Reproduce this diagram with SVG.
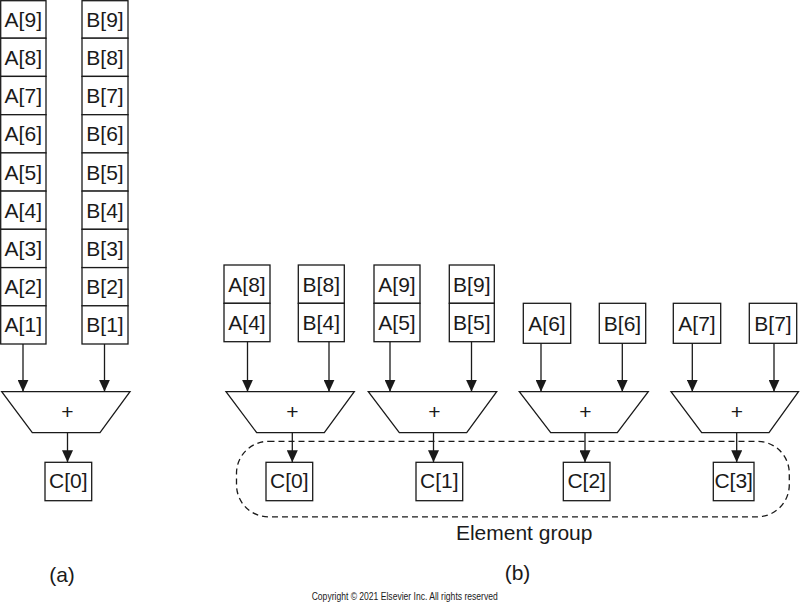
<svg xmlns="http://www.w3.org/2000/svg" width="800" height="606" viewBox="0 0 800 606">
<style>
.box{fill:#fff;stroke:#1a1a1a;stroke-width:1.3}
.t{font-family:"Liberation Sans",Arial,sans-serif;font-size:21px;fill:#1a1a1a;text-anchor:middle}
.ln{stroke:#1a1a1a;stroke-width:1.3;fill:none}
.dash{fill:none;stroke:#1a1a1a;stroke-width:1.3;stroke-dasharray:6 4}
.small{font-family:"Liberation Sans",Arial,sans-serif;font-size:10px;fill:#1a1a1a}
</style>
<defs>
<marker id="ah" viewBox="0 0 12 11" refX="12" refY="5.5" markerWidth="12" markerHeight="11" markerUnits="userSpaceOnUse" orient="auto"><path d="M0,0L12,5.5L0,11z" fill="#1a1a1a"/></marker>
</defs>
<rect width="800" height="606" fill="#fff"/>

<!-- (a) column A -->
<g id="a-A9"><rect class="box" x="0.7" y="0.7" width="45.3" height="37.5"/><text class="t" x="23.3" y="26.6">A[9]</text></g>
<g id="a-A8"><rect class="box" x="0.7" y="38.2" width="45.3" height="38.2"/><text class="t" x="23.3" y="64.8">A[8]</text></g>
<g id="a-A7"><rect class="box" x="0.7" y="76.4" width="45.3" height="38.3"/><text class="t" x="23.3" y="103">A[7]</text></g>
<g id="a-A6"><rect class="box" x="0.7" y="114.7" width="45.3" height="38.2"/><text class="t" x="23.3" y="141.3">A[6]</text></g>
<g id="a-A5"><rect class="box" x="0.7" y="152.9" width="45.3" height="38.2"/><text class="t" x="23.3" y="179.5">A[5]</text></g>
<g id="a-A4"><rect class="box" x="0.7" y="191.1" width="45.3" height="38.2"/><text class="t" x="23.3" y="217.7">A[4]</text></g>
<g id="a-A3"><rect class="box" x="0.7" y="229.3" width="45.3" height="38.3"/><text class="t" x="23.3" y="255.9">A[3]</text></g>
<g id="a-A2"><rect class="box" x="0.7" y="267.6" width="45.3" height="38.2"/><text class="t" x="23.3" y="294.2">A[2]</text></g>
<g id="a-A1"><rect class="box" x="0.7" y="305.8" width="45.3" height="38.2"/><text class="t" x="23.3" y="332.4">A[1]</text></g>

<!-- (a) column B -->
<g id="a-B9"><rect class="box" x="82" y="0.7" width="46" height="37.5"/><text class="t" x="105" y="26.6">B[9]</text></g>
<g id="a-B8"><rect class="box" x="82" y="38.2" width="46" height="38.2"/><text class="t" x="105" y="64.8">B[8]</text></g>
<g id="a-B7"><rect class="box" x="82" y="76.4" width="46" height="38.3"/><text class="t" x="105" y="103">B[7]</text></g>
<g id="a-B6"><rect class="box" x="82" y="114.7" width="46" height="38.2"/><text class="t" x="105" y="141.3">B[6]</text></g>
<g id="a-B5"><rect class="box" x="82" y="152.9" width="46" height="38.2"/><text class="t" x="105" y="179.5">B[5]</text></g>
<g id="a-B4"><rect class="box" x="82" y="191.1" width="46" height="38.2"/><text class="t" x="105" y="217.7">B[4]</text></g>
<g id="a-B3"><rect class="box" x="82" y="229.3" width="46" height="38.3"/><text class="t" x="105" y="255.9">B[3]</text></g>
<g id="a-B2"><rect class="box" x="82" y="267.6" width="46" height="38.2"/><text class="t" x="105" y="294.2">B[2]</text></g>
<g id="a-B1"><rect class="box" x="82" y="305.8" width="46" height="38.2"/><text class="t" x="105" y="332.4">B[1]</text></g>

<!-- (a) adder and output -->
<g id="a-add"><polygon class="box" points="1.7,391.7 130,391.7 100,432.7 32.3,432.7"/><text class="t" x="67.5" y="419">+</text></g>
<g id="a-C0"><rect class="box" x="45" y="462.3" width="46.7" height="38.4"/><text class="t" x="68.3" y="488.3">C[0]</text></g>

<!-- (b) inputs -->
<g id="b-A8"><rect class="box" x="224" y="265" width="46" height="38.3"/><text class="t" x="247" y="291.7">A[8]</text></g>
<g id="b-A4"><rect class="box" x="224" y="303.3" width="46" height="38.4"/><text class="t" x="247" y="330">A[4]</text></g>
<g id="b-B8"><rect class="box" x="298.3" y="265" width="46" height="38.3"/><text class="t" x="321.3" y="291.7">B[8]</text></g>
<g id="b-B4"><rect class="box" x="298.3" y="303.3" width="46" height="38.4"/><text class="t" x="321.3" y="330">B[4]</text></g>
<g id="b-A9"><rect class="box" x="374" y="265" width="46" height="38.3"/><text class="t" x="397" y="291.7">A[9]</text></g>
<g id="b-A5"><rect class="box" x="374" y="303.3" width="46" height="38.4"/><text class="t" x="397" y="330">A[5]</text></g>
<g id="b-B9"><rect class="box" x="449.3" y="265" width="45" height="38.3"/><text class="t" x="471.8" y="291.7">B[9]</text></g>
<g id="b-B5"><rect class="box" x="449.3" y="303.3" width="45" height="38.4"/><text class="t" x="471.8" y="330">B[5]</text></g>
<g id="b-A6"><rect class="box" x="523.3" y="303.3" width="47.4" height="40"/><text class="t" x="547" y="330.8">A[6]</text></g>
<g id="b-B6"><rect class="box" x="599.3" y="303.3" width="46.4" height="40"/><text class="t" x="622.5" y="330.8">B[6]</text></g>
<g id="b-A7"><rect class="box" x="673.3" y="303.3" width="47.4" height="40"/><text class="t" x="697" y="330.8">A[7]</text></g>
<g id="b-B7"><rect class="box" x="749.3" y="303.3" width="47.4" height="40"/><text class="t" x="773" y="330.8">B[7]</text></g>

<!-- (b) adders -->
<g id="b-add0"><polygon class="box" points="226,391.7 354.3,391.7 324.3,432.7 256.7,432.7"/><text class="t" x="292.5" y="419">+</text></g>
<g id="b-add1"><polygon class="box" points="368.3,391.7 496.7,391.7 466.7,432.7 399.3,432.7"/><text class="t" x="434.5" y="419">+</text></g>
<g id="b-add2"><polygon class="box" points="519.3,391.7 648.3,391.7 617.3,432.7 550.7,432.7"/><text class="t" x="585.5" y="419">+</text></g>
<g id="b-add3"><polygon class="box" points="671,391.7 798.5,391.7 769,432.7 701.7,432.7"/><text class="t" x="737" y="419">+</text></g>

<!-- element group -->
<g id="element-group"><rect class="dash" x="236.5" y="441.3" width="552.8" height="75.5" rx="32" ry="32"/><text class="t" x="524.2" y="540">Element group</text></g>

<!-- (b) outputs -->
<g id="b-C0"><rect class="box" x="266" y="462.3" width="46.7" height="38.4"/><text class="t" x="289.3" y="488.3">C[0]</text></g>
<g id="b-C1"><rect class="box" x="416" y="462.3" width="46.7" height="38.4"/><text class="t" x="439.3" y="488.3">C[1]</text></g>
<g id="b-C2"><rect class="box" x="563.3" y="462.3" width="46.7" height="38.4"/><text class="t" x="586.7" y="488.3">C[2]</text></g>
<g id="b-C3"><rect class="box" x="713.3" y="462.3" width="40.7" height="38.4"/><text class="t" x="733.7" y="488.3">C[3]</text></g>

<!-- connectors -->
<g id="connectors">
<line class="ln" x1="23" y1="344" x2="23" y2="391.7" marker-end="url(#ah)"/>
<line class="ln" x1="104.5" y1="344" x2="104.5" y2="391.7" marker-end="url(#ah)"/>
<line class="ln" x1="67.5" y1="432.7" x2="67.5" y2="462.3" marker-end="url(#ah)"/>
<line class="ln" x1="247.5" y1="341.7" x2="247.5" y2="391.7" marker-end="url(#ah)"/>
<line class="ln" x1="329" y1="341.7" x2="329" y2="391.7" marker-end="url(#ah)"/>
<line class="ln" x1="390" y1="341.7" x2="390" y2="391.7" marker-end="url(#ah)"/>
<line class="ln" x1="471.5" y1="341.7" x2="471.5" y2="391.7" marker-end="url(#ah)"/>
<line class="ln" x1="541" y1="343.3" x2="541" y2="391.7" marker-end="url(#ah)"/>
<line class="ln" x1="622.3" y1="343.3" x2="622.3" y2="391.7" marker-end="url(#ah)"/>
<line class="ln" x1="692.3" y1="343.3" x2="692.3" y2="391.7" marker-end="url(#ah)"/>
<line class="ln" x1="774" y1="343.3" x2="774" y2="391.7" marker-end="url(#ah)"/>
<line class="ln" x1="292.3" y1="432.7" x2="292.3" y2="462.3" marker-end="url(#ah)"/>
<line class="ln" x1="433.5" y1="432.7" x2="433.5" y2="462.3" marker-end="url(#ah)"/>
<line class="ln" x1="585" y1="432.7" x2="585" y2="462.3" marker-end="url(#ah)"/>
<line class="ln" x1="736.7" y1="432.7" x2="736.7" y2="462.3" marker-end="url(#ah)"/>
</g>

<!-- captions -->
<text class="t" x="62" y="581.7">(a)</text>
<text class="t" x="517.5" y="580">(b)</text>
<text class="small" x="311.7" y="600" textLength="186" lengthAdjust="spacingAndGlyphs">Copyright © 2021 Elsevier Inc. All rights reserved</text>
</svg>
